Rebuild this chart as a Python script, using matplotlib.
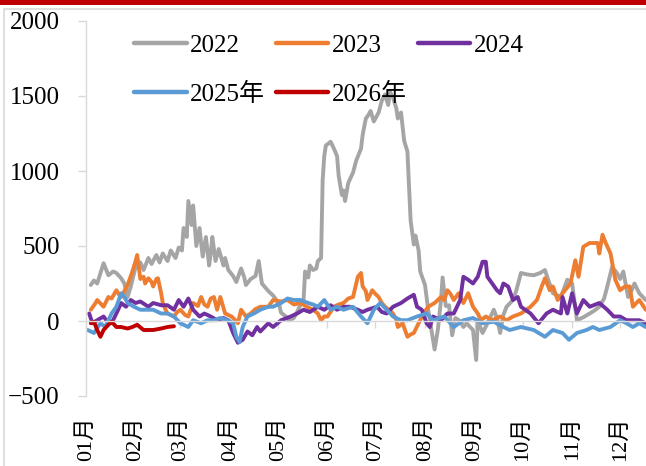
import matplotlib
matplotlib.use("Agg")
import matplotlib.pyplot as plt
from matplotlib.patches import Rectangle
from matplotlib.lines import Line2D

plt.rcParams['font.family'] = ['Liberation Serif', 'Noto Sans CJK SC']
plt.rcParams['axes.unicode_minus'] = True

# ---------------- data (day of year, value) ----------------
month_labels = ["01月", "02月", "03月", "04月", "05月", "06月",
                "07月", "08月", "09月", "10月", "11月", "12月"]
month_starts = [0, 31, 59, 90, 120, 151, 181, 212, 243, 273, 304, 334]

days_2022 = [3, 5, 7, 11, 14, 17, 19, 22, 24, 26, 28, 31, 34, 36, 39, 41, 44, 46, 48, 51, 53, 56, 58, 60, 61, 63,
             64, 66, 67, 69, 71, 72, 73, 75, 77, 78, 79, 81, 83, 86, 87, 89, 92, 94, 97, 99, 100, 103, 106, 108,
             110, 114, 117, 119, 121, 122, 125, 127, 130, 132, 134, 136, 137, 139, 140, 142, 144, 145, 147, 148,
             149, 150, 153, 155, 157, 158, 160, 161, 162, 164, 167, 169, 172, 173, 175, 177, 178, 180, 182, 183,
             185, 187, 189, 190, 192, 194, 195, 197, 199, 201, 203, 205, 206, 208, 209, 212, 214, 217, 218, 220,
             222, 223, 225, 227, 229, 231, 234, 236, 238, 242, 244, 245, 248, 252, 255, 257, 259, 261, 263, 267,
             269, 272, 276, 280, 284, 287, 289, 292, 297, 301, 304, 307, 311, 315, 318, 321, 324, 326, 329, 332,
             334, 336, 339, 341, 343, 346, 350]
vals_2022 = [240, 270, 250, 385, 305, 330, 320, 285, 250, 160, 230, 360, 390, 340, 420, 380, 440, 390, 450, 400,
             470, 420, 490, 470, 620, 560, 800, 640, 770, 500, 620, 520, 430, 560, 370, 450, 560, 400, 480, 370,
             420, 340, 300, 260, 350, 290, 240, 280, 300, 400, 250, 200, 170, 140, 100, 55, 30, 5, 20, 60, 105,
             130, 330, 290, 370, 340, 350, 400, 420, 940, 1100, 1170, 1195, 1150, 1100, 970, 840, 870, 800, 920,
             990, 1070, 1150, 1240, 1350, 1380, 1400, 1330, 1370, 1390, 1470, 1510, 1440, 1530, 1490, 1420, 1350,
             1390, 1200, 1130, 670, 510, 570, 470, 330, 240, 75, -125, -190, -60, 140, 290, 100, 105, -95, 20, 0,
             -40, -15, -60, -260, 5, -80, 5, 75, 20, -80, 40, 95, 140, 200, 320, 310, 305, 320, 340, 275, 185, 160,
             275, 250, 5, 25, 50, 70, 95, 150, 230, 360, 320, 280, 330, 160, 200, 250, 185, 140]

days_2023 = [3, 6, 7, 11, 14, 16, 19, 21, 22, 26, 29, 31, 32, 34, 36, 37, 39, 41, 42, 44, 45, 47, 48, 50, 51, 55,
             57, 59, 62, 64, 66, 67, 70, 72, 74, 76, 78, 80, 82, 84, 87, 91, 93, 95, 97, 100, 103, 106, 109, 114,
             117, 122, 126, 130, 134, 139, 142, 145, 147, 149, 151, 155, 158, 161, 164, 167, 170, 172, 173, 175,
             176, 179, 181, 183, 185, 187, 190, 192, 194, 195, 198, 201, 203, 205, 208, 211, 214, 218, 222, 224,
             226, 228, 230, 233, 236, 239, 242, 245, 247, 250, 254, 259, 263, 267, 272, 278, 282, 285, 287, 290,
             292, 295, 298, 303, 306, 308, 311, 315, 320, 321, 323, 325, 328, 331, 334, 337, 340, 342, 346, 350]
vals_2023 = [75, 120, 140, 95, 160, 150, 205, 170, 160, 240, 330, 400, 440, 280, 295, 250, 285, 260, 230, 280,
             285, 185, 120, 70, 50, 30, 60, 75, 40, 30, 90, 120, 100, 160, 110, 95, 150, 160, 75, 160, 50, 30, 10,
             -15, 75, 30, 50, 80, 95, 95, 140, 130, 140, 110, 120, 90, 75, 50, 5, 30, 30, 95, 110, 120, 150, 160,
             295, 320, 230, 200, 140, 205, 180, 160, 120, 95, 70, 50, 10, -40, -15, -105, -90, -80, -15, 50, 95,
             120, 160, 140, 205, 180, 140, 185, 120, 185, 95, 50, 5, 30, 5, 30, 5, 30, 50, 95, 140, 230, 285, 205,
             230, 140, 185, 250, 405, 295, 495, 520, 520, 450, 575, 520, 450, 275, 205, 230, 230, 95, 140, 75]

days_2024 = [2, 4, 7, 11, 13, 16, 19, 22, 25, 28, 31, 34, 39, 42, 47, 51, 55, 58, 61, 64, 67, 71, 74, 78, 82, 86,
             89, 92, 95, 98, 101, 104, 107, 109, 114, 117, 122, 128, 132, 136, 140, 145, 149, 153, 157, 161, 165,
             170, 173, 176, 179, 182, 185, 188, 192, 197, 201, 205, 207, 210, 213, 215, 217, 222, 226, 230, 234,
             236, 239, 242, 245, 248, 250, 251, 254, 257, 259, 261, 264, 267, 270, 272, 278, 283, 288, 292, 297,
             298, 301, 304, 307, 311, 315, 321, 326, 330, 334, 338, 342, 346, 350]
vals_2024 = [50, -15, 5, 30, 0, -15, 50, 120, 95, 140, 120, 130, 95, 120, 105, 105, 75, 140, 95, 150, 75, 30, 50,
             30, 5, 20, 5, -80, -145, -125, -70, -95, -40, -70, -15, -40, 5, 30, 50, 75, 60, 95, 75, 105, 75, 95,
             95, 75, 60, 75, 85, 95, 60, 50, 95, 120, 150, 175, 95, 75, -15, -40, 30, 5, 50, 50, 140, 295, 275,
             250, 295, 395, 395, 295, 250, 205, 185, 250, 230, 140, 160, 95, 50, -15, 50, 75, 50, 160, 50, 185,
             50, 140, 95, 120, 75, 30, 30, 5, 5, 5, -15]

days_2025 = [1, 5, 9, 12, 16, 19, 22, 24, 26, 30, 34, 39, 42, 47, 51, 55, 59, 64, 67, 72, 76, 80, 84, 89, 92, 94,
             96, 98, 101, 105, 109, 114, 117, 122, 126, 130, 134, 139, 142, 145, 149, 153, 157, 161, 167, 172, 176,
             180, 184, 188, 192, 197, 201, 207, 213, 217, 224, 230, 236, 242, 248, 255, 261, 265, 272, 280, 287,
             292, 298, 302, 307, 313, 317, 321, 328, 334, 338, 342, 346, 350]
vals_2025 = [-60, -80, -15, -40, 50, 95, 185, 160, 120, 95, 75, 75, 75, 50, 50, 30, -15, -40, 5, -15, 5, 5, 20,
             5, -15, -105, -140, -40, 30, 50, 75, 95, 95, 120, 150, 140, 140, 120, 110, 95, 140, 75, 95, 75, 95,
             30, -15, 75, 120, 75, 30, 5, 5, 30, 50, 5, 30, -40, 5, 20, -15, -5, -40, -60, -40, -60, -105, -60,
             -80, -125, -80, -60, -40, -60, -40, 5, -15, -40, -15, -40]

days_2026 = [3, 5, 7, 9, 11, 14, 16, 19, 22, 26, 29, 32, 36, 39, 42, 47, 51, 55]
vals_2026 = [-15, -5, -60, -105, -60, -25, -5, -40, -40, -50, -40, -25, -60, -60, -60, -50, -40, -35]

series = [
    ("2022", days_2022, vals_2022, "#A5A5A5"),
    ("2023", days_2023, vals_2023, "#ED7D31"),
    ("2024", days_2024, vals_2024, "#7030A0"),
    ("2025年", days_2025, vals_2025, "#5B9BD5"),
    ("2026年", days_2026, vals_2026, "#C00000"),
]

# ---------------- figure ----------------
W, H = 646, 466
fig = plt.figure(figsize=(W / 100, H / 100), dpi=100)

# outer decorations: red top band and light frame
fig.add_artist(Rectangle((0, 1 - 4.5 / H), 1, 4.5 / H, transform=fig.transFigure,
                         facecolor="#C00000", edgecolor="none"))
fig.add_artist(Rectangle((3.5 / W, -0.1), 2, 1 - 9 / H + 0.1, transform=fig.transFigure,
                         facecolor="none", edgecolor="#D9D9D9", lw=1.2))

ax = fig.add_axes([86 / W, (H - 396) / H, 1 - 86 / W, (396 - 21) / H])

lw = 2.8
handles = {}
for name, d, v, c in series:
    ax.plot(d, v, color=c, lw=lw, solid_joinstyle="round", solid_capstyle="round")
    handles[name] = Line2D([], [], color=c, lw=3.2, solid_capstyle="round")

ax.set_xlim(0, 350.2)
ax.set_ylim(-500, 2000)
ax.set_yticks([-500, 0, 500, 1000, 1500, 2000])

for s in ["top", "right"]:
    ax.spines[s].set_visible(False)
ax.spines["left"].set_color("#D9D9D9")
ax.spines["left"].set_linewidth(1.0)
ax.spines["bottom"].set_position(("data", 0))
ax.spines["bottom"].set_color("#D9D9D9")
ax.spines["bottom"].set_linewidth(1.0)

ax.tick_params(axis="y", direction="out", length=6, width=1.0, color="#D9D9D9",
               labelsize=18, pad=13, labelcolor="#000000")
ax.set_xticks(month_starts)
ax.tick_params(axis="x", direction="out", length=5, width=1.0, color="#D9D9D9",
               labelbottom=False)

sec = ax.secondary_xaxis(0.0)
sec.set_xticks(month_starts)
sec.set_xticklabels(month_labels, rotation=90, fontsize=16)
sec.tick_params(axis="x", length=0, pad=15)
sec.spines["bottom"].set_visible(False)

order = ["2022", "2025年", "2023", "2026年", "2024"]
leg = fig.legend([handles[k] for k in order], order, ncol=3, loc="upper left",
                 bbox_to_anchor=(134 / W, 1 - 34 / H), frameon=False, fontsize=18,
                 handlelength=2.1, handletextpad=0.15, columnspacing=0.42,
                 labelspacing=1.05, borderpad=0, borderaxespad=0)

fig.savefig("out.png", dpi=100)
